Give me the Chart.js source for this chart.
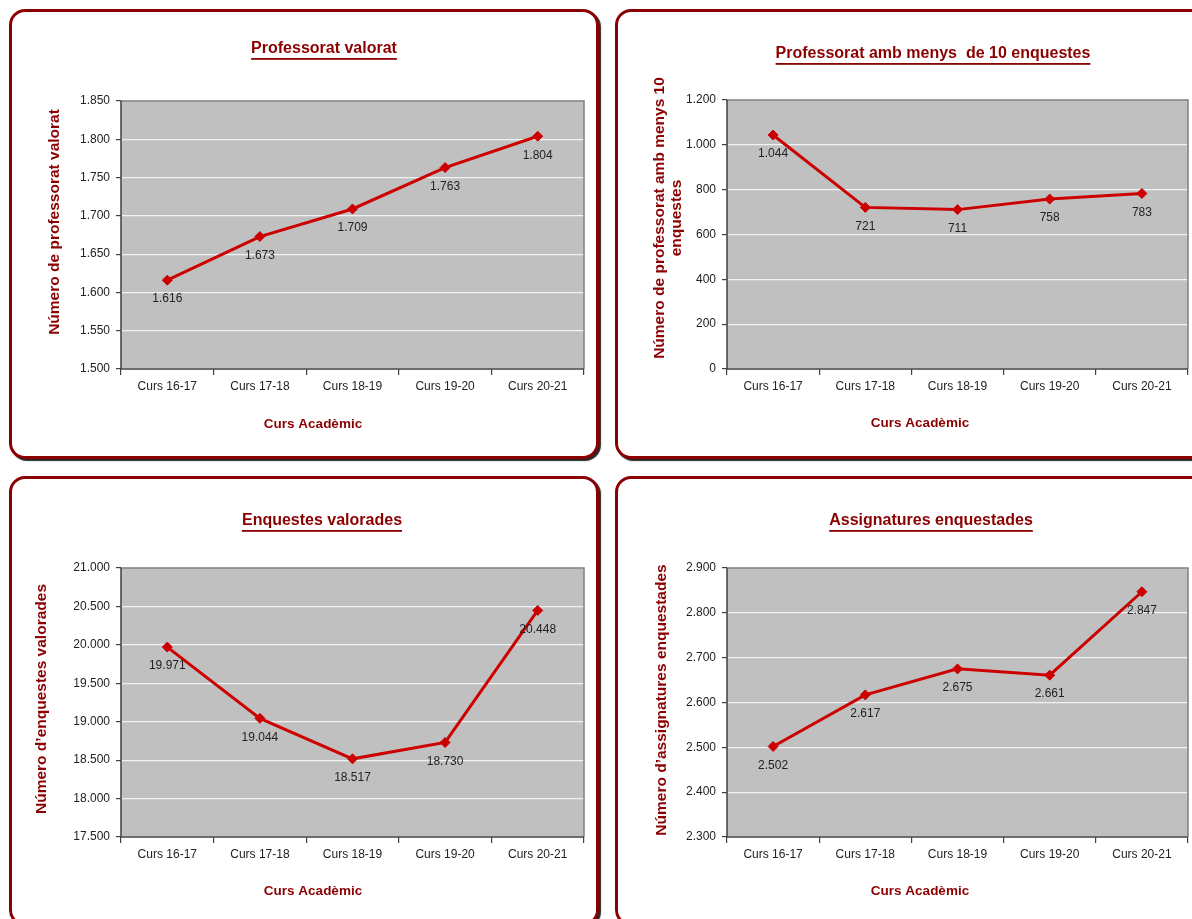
<!DOCTYPE html>
<html>
<head>
<meta charset="utf-8">
<script src="https://cdn.jsdelivr.net/npm/chart.js@4.4.1/dist/chart.umd.min.js"></script>
<style>
  html, body { margin: 0; padding: 0; background: #fff; }
  body { width: 1192px; height: 919px; overflow: hidden; position: relative; }
  .panel {
    position: absolute; box-sizing: border-box;
    border: 3px solid #8B0000; border-radius: 16px;
    box-shadow: 2px 2px 1px rgba(0,0,0,0.85);
    background: #fff;
  }
  canvas { position: absolute; }
</style>
</head>
<body>
<script>
// Four Excel-style line panels: survey counts per academic year.

const CURSOS = ["Curs 16-17", "Curs 17-18", "Curs 18-19", "Curs 19-20", "Curs 20-21"];

const PROFESSORAT   = [1616, 1673, 1709, 1763, 1804];
const MENYS_10      = [1044, 721, 711, 758, 783];
const ENQUESTES     = [19971, 19044, 18517, 18730, 20448];
const ASSIGNATURES  = [2502, 2617, 2675, 2661, 2847];

// y axis [min, max, step]
const PROF_AXIS   = [1500, 1850, 50];
const MENYS_AXIS  = [0, 1200, 200];
const ENQ_AXIS    = [17500, 21000, 500];
const ASSIG_AXIS  = [2300, 2900, 100];

const DARK_RED = "#8B0000";
const LINE_RED = "#CC0000";
const FONT = '"Liberation Sans", Arial, sans-serif';

Chart.defaults.font.family = FONT;

// page coords: box [left, top, w, h], area [L, T, R, B]
const PANELS = [
  { box: [9, 9, 590, 450], area: [121, 101, 584, 369],
    title: "Professorat valorat", titlePos: [324, 49],
    yTitle: ["Número de professorat valorat"], yTitlePos: [55, 222],
    xTitlePos: [313, 424], data: PROFESSORAT, axis: PROF_AXIS },
  { box: [615, 9, 600, 450], area: [727, 100, 1188, 369],
    title: "Professorat amb menys  de 10 enquestes", titlePos: [933, 54],
    yTitle: ["Número de professorat amb menys 10", "enquestes"], yTitlePos: [668, 218],
    xTitlePos: [920, 423], data: MENYS_10, axis: MENYS_AXIS },
  { box: [9, 476, 590, 450], area: [121, 568, 584, 837],
    title: "Enquestes valorades", titlePos: [322, 521],
    yTitle: ["Número d’enquestes valorades"], yTitlePos: [42, 699],
    xTitlePos: [313, 891], data: ENQUESTES, axis: ENQ_AXIS },
  { box: [615, 476, 600, 450], area: [727, 568, 1188, 837],
    title: "Assignatures enquestades", titlePos: [931, 521],
    yTitle: ["Número d’assignatures enquestades"], yTitlePos: [662, 700],
    xTitlePos: [920, 891], data: ASSIGNATURES, axis: ASSIG_AXIS },
];

function fmt(v) {
  return String(Math.round(v)).replace(/\B(?=(\d{3})+(?!\d))/g, ".");
}

const plotFrame = {
  id: "plotFrame",
  beforeDraw(chart) {
    const { ctx, chartArea: a } = chart;
    ctx.save();
    ctx.fillStyle = "#C0C0C0";
    ctx.fillRect(a.left, a.top, a.right - a.left, a.bottom - a.top);
    ctx.restore();
  },
  beforeDatasetsDraw(chart) {
    const { ctx, chartArea: a } = chart;
    ctx.save();
    ctx.lineWidth = 1.5;
    ctx.strokeStyle = "#808080";
    ctx.beginPath();
    ctx.moveTo(a.left, a.top); ctx.lineTo(a.right, a.top); ctx.lineTo(a.right, a.bottom);
    ctx.stroke();
    ctx.strokeStyle = "#404040";
    ctx.beginPath();
    ctx.moveTo(a.left, a.top); ctx.lineTo(a.left, a.bottom); ctx.lineTo(a.right, a.bottom);
    ctx.stroke();
    ctx.restore();
  },
};

const pointLabels = {
  id: "pointLabels",
  afterDatasetsDraw(chart) {
    const ctx = chart.ctx;
    const ds = chart.data.datasets[0];
    ctx.save();
    ctx.fillStyle = "#222";
    ctx.font = "12px " + FONT;
    ctx.textAlign = "center";
    ctx.textBaseline = "middle";
    chart.getDatasetMeta(0).data.forEach((pt, i) => {
      ctx.fillText(fmt(ds.data[i]), pt.x, pt.y + 19);
    });
    ctx.restore();
  },
};

const panelText = {
  id: "panelText",
  afterDraw(chart, args, o) {
    const ctx = chart.ctx;
    ctx.save();
    ctx.fillStyle = DARK_RED;
    ctx.textAlign = "center";
    ctx.textBaseline = "middle";

    ctx.font = "bold 16px " + FONT;
    const [tx, ty] = o.titlePos;
    ctx.fillText(o.title, tx, ty);
    const w = ctx.measureText(o.title).width;
    ctx.fillRect(tx - w / 2, ty + 9, w, 1.8);

    ctx.font = "bold 13.5px " + FONT;
    ctx.fillText("Curs Acadèmic", o.xTitlePos[0], o.xTitlePos[1]);

    ctx.font = "bold 15.5px " + FONT;
    const lh = 17;
    ctx.translate(o.yTitlePos[0], o.yTitlePos[1]);
    ctx.rotate(-Math.PI / 2);
    const n = o.yTitle.length;
    o.yTitle.forEach((line, i) => {
      ctx.fillText(line, 0, (i - (n - 1) / 2) * lh);
    });
    ctx.restore();
  },
};

const Y_AXIS_W = 50;
const X_AXIS_H = 30;

PANELS.forEach((p) => {
  const [bl, bt, bw, bh] = p.box;
  const div = document.createElement("div");
  div.className = "panel";
  Object.assign(div.style, { left: bl + "px", top: bt + "px", width: bw + "px", height: bh + "px" });
  document.body.appendChild(div);

  const ox = bl + 3, oy = bt + 3, cw = bw - 6, ch = bh - 6;
  const canvas = document.createElement("canvas");
  canvas.width = cw;
  canvas.height = ch;
  canvas.style.left = ox + "px";
  canvas.style.top = oy + "px";
  document.body.appendChild(canvas);

  const [L, T, R, B] = p.area;
  const [ymin, ymax, ystep] = p.axis;

  new Chart(canvas.getContext("2d"), {
    type: "line",
    data: {
      labels: CURSOS,
      datasets: [{
        data: p.data,
        borderColor: LINE_RED,
        borderWidth: 3,
        tension: 0,
        pointStyle: "rectRot",
        pointRadius: 5,
        pointBackgroundColor: LINE_RED,
        pointBorderColor: LINE_RED,
        pointBorderWidth: 1,
      }],
    },
    options: {
      responsive: false,
      animation: false,
      layout: {
        padding: {
          left: L - ox - Y_AXIS_W,
          top: T - oy,
          right: ox + cw - R,
          bottom: oy + ch - B - X_AXIS_H,
        },
      },
      scales: {
        x: {
          type: "category",
          offset: true,
          afterFit: (s) => { s.height = X_AXIS_H; },
          grid: { offset: true, drawOnChartArea: false, tickLength: 6, tickColor: "#404040", lineWidth: 1.2 },
          border: { display: false },
          ticks: { color: "#222", font: { size: 12 }, padding: 4, maxRotation: 0, autoSkip: false },
        },
        y: {
          min: ymin,
          max: ymax,
          afterFit: (s) => { s.width = Y_AXIS_W; },
          grid: { color: "#F2F2F2", lineWidth: 1.2, tickLength: 5, tickColor: "#404040" },
          border: { display: false },
          ticks: { stepSize: ystep, color: "#222", font: { size: 12 }, padding: 6, callback: (v) => fmt(v) },
        },
      },
      plugins: {
        legend: { display: false },
        tooltip: { enabled: false },
        panelText: {
          title: p.title,
          titlePos: [p.titlePos[0] - ox, p.titlePos[1] - oy],
          xTitlePos: [p.xTitlePos[0] - ox, p.xTitlePos[1] - oy],
          yTitle: p.yTitle,
          yTitlePos: [p.yTitlePos[0] - ox, p.yTitlePos[1] - oy],
        },
      },
    },
    plugins: [plotFrame, pointLabels, panelText],
  });
});
</script>
</body>
</html>
